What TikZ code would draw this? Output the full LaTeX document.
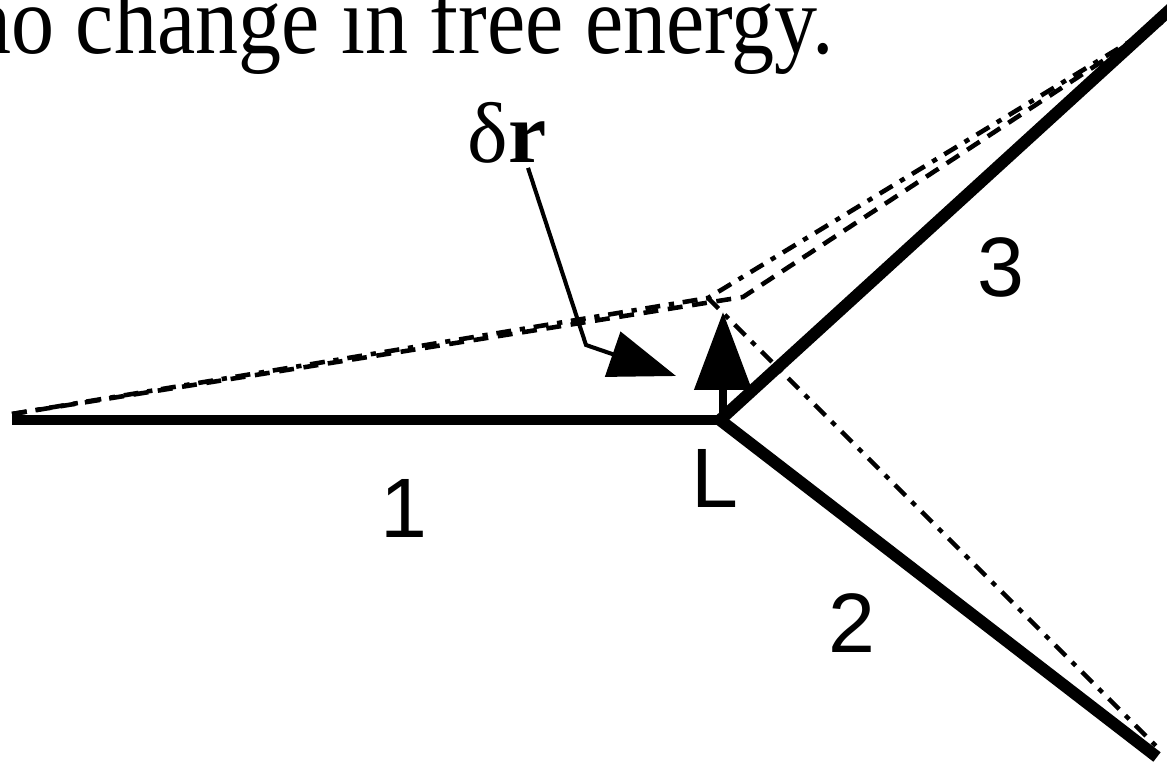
\documentclass[tikz,border=0pt]{standalone}
\usepackage{fontspec}
\setmainfont{Liberation Serif}
\newfontfamily\labelfont{Liberation Sans}
\usetikzlibrary{arrows.meta,positioning}

\begin{document}
\begin{tikzpicture}[x=0.02cm, y=-0.02cm,
        wall/.style={line width=6.8pt, line join=miter},
        movedwall/.style={line width=2.6pt, dash pattern=on 8.5pt off 5.5pt},
        movedalt/.style={line width=2.6pt, dash pattern=on 8.5pt off 5pt on 3pt off 5pt},
        num/.style={font=\labelfont\fontsize{48}{50}\selectfont, inner sep=0pt},
        push/.style={line width=2.3pt, -{Triangle[length=1.34cm, width=0.94cm]}}
    ]
    \useasboundingbox (0,0) rectangle (1167,763);

    % Caption (cut at the left and top edges)
    \node[anchor=base west, inner sep=0pt, font=\fontsize{49}{52}\selectfont] (caption) at (-32,54) {\scalebox{1}[1.13]{no change in free energy.}};

    % Junction and grain ends
    \coordinate (j) at (720,420);
    \coordinate (end1) at (12,420);
    \coordinate (end2) at (1157,757);
    \coordinate (end3) at (1175,5);

    % Displaced boundaries
    \coordinate (jalt) at (708,298);
    \coordinate (jmov) at (743,297);
    \coordinate (alt1) at (12,414);
    \coordinate (alt2) at (1160,750);
    \coordinate (alt3) at (1162,22);
    \draw[movedwall] (alt1) -- (jmov) -- (alt3);
    \draw[movedalt] (alt1) -- (jalt) -- (alt3);
    \draw[movedalt] (jalt) -- (alt2);

    % Boundaries
    \draw[wall, line width=5.7pt] (end1) -- (j);
    \draw[wall] (end3) -- (j) -- (end2);

    % Grain labels
    \node[num] (g1) at (404,508) {1};
    \node[num] (g2) at (852,623) {2};
    \node[num] (g3) at (1001,267) {3};
    \node[num] (lab) at (715,478) {L};

    % Displacement
    \node[inner sep=0pt, font=\fontsize{49}{52}\selectfont] (dr) at (507,133) {δ\textbf{r}};
    \coordinate (bend) at (586,345);
    \coordinate (drtip) at (676,376);
    \draw[push] ([xshift=0.42cm, yshift=-0.08cm]dr.south) -- (bend) -- (drtip);

    \coordinate (jfoot) at (723,420);
    \coordinate (jtip) at (723,312);
    \draw[line width=4.5pt, -{Triangle[length=1.56cm, width=1.12cm]}] (jfoot) -- (jtip);

\end{tikzpicture}
\end{document}
